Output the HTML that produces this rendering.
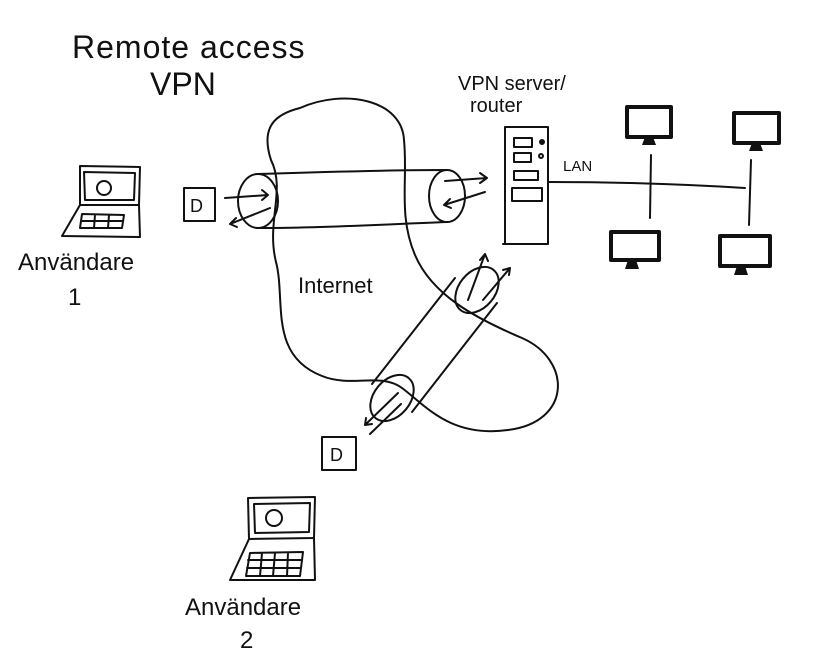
<!DOCTYPE html>
<html><head><meta charset="utf-8"><style>
html,body{margin:0;padding:0;background:#fff;}
svg{display:block;}
text{font-family:"Liberation Sans",sans-serif;fill:#111;}
</style></head><body>
<svg width="823" height="659" viewBox="0 0 823 659" xmlns="http://www.w3.org/2000/svg">
<g fill="none" stroke="#111" stroke-width="2" stroke-linecap="round" stroke-linejoin="round">
<!-- internet cloud -->
<path d="M300,108 C345,88 402,100 404,140 C408,180 398,215 415,255 C432,295 475,318 522,338 C572,360 572,422 508,430 C450,438 425,405 402,388 C380,372 352,388 322,376 C268,355 286,300 276,262 C266,222 286,190 271,160 C260,126 276,114 300,108 Z"/>
<!-- tunnel 1 -->
<ellipse cx="258" cy="201" rx="20" ry="27"/>
<ellipse cx="447" cy="196" rx="18" ry="26"/>
<path d="M258,174 C320,172 390,170 447,170 M258,228 C330,228 390,224 447,222"/>
<!-- tunnel 2 -->
<ellipse cx="477" cy="290" rx="18" ry="26" transform="rotate(40 477 290)"/>
<ellipse cx="392" cy="398" rx="18" ry="26" transform="rotate(40 392 398)"/>
<path d="M455,278 L372,384 M497,303 L412,412"/>
<!-- arrows tunnel 1 -->
<path d="M225,198 L268,195 M262,190 L268,195 L262,200"/>
<path d="M270,208 L230,224 M236,218 L230,224 L237,227"/>
<path d="M445,181 L487,178 M480,173 L487,178 L480,183"/>
<path d="M485,192 L444,205 M450,199 L444,205 L451,208"/>
<!-- arrows tunnel 2 -->
<path d="M468,300 L485,254 M480,260 L485,254 L488,261"/>
<path d="M483,300 L510,268 M503,270 L510,268 L509,275"/>
<path d="M398,393 L365,425 M366,418 L365,425 L372,424"/>
<path d="M370,434 L401,404"/>
<!-- D boxes -->
<rect x="184" y="188" width="31" height="33"/>
<rect x="322" y="437" width="34" height="33"/>
<!-- server -->
<rect x="505" y="127" width="43" height="117"/>
<path d="M503,244 L540,244"/>
<rect x="514" y="138" width="18" height="9"/>
<rect x="514" y="153" width="17" height="9"/>
<rect x="514" y="171" width="24" height="9"/>
<rect x="512" y="188" width="30" height="13"/>
<circle cx="542" cy="142" r="2" fill="#111"/>
<circle cx="541" cy="156" r="2"/>
<!-- LAN -->
<path d="M548,182 C620,182 680,184 745,188"/>
<path d="M651,155 L650,218 M751,160 L749,225"/>
<!-- laptop 1 -->
<path d="M80,166 L140,167 L139,205 L80,205 Z M84,172 L135,173 L134,200 L85,200 Z"/>
<path d="M80,205 L62,236 L140,237 L139,205"/>
<path d="M82,214 L124,215 L122,228 L80,228 Z M81,221 L123,221 M95,215 L94,228 M109,215 L108,228"/>
<circle cx="104" cy="188" r="7"/>
<!-- laptop 2 -->
<path d="M248,498 L315,497 L314,538 L249,539 Z M254,504 L310,503 L309,532 L255,533 Z"/>
<path d="M249,539 L230,580 L315,580 L314,538"/>
<path d="M250,553 L303,552 L300,576 L246,576 Z M248,560 L302,560 M247,568 L301,568 M262,553 L260,576 M275,553 L273,576 M288,553 L287,576"/>
<circle cx="274" cy="518" r="8"/>
</g>
<!-- monitors -->
<g fill="none" stroke="#111" stroke-width="4" stroke-linejoin="round">
<rect x="627" y="107" width="44" height="30"/>
<rect x="734" y="113" width="45" height="30"/>
<rect x="611" y="232" width="48" height="28"/>
<rect x="720" y="236" width="50" height="30"/>
</g>
<g fill="#111">
<path d="M645,137 h8 l3,8 h-14 z"/>
<path d="M752,143 h8 l3,8 h-14 z"/>
<path d="M628,260 h8 l3,9 h-14 z"/>
<path d="M737,266 h8 l3,9 h-14 z"/>
</g>
<g font-size="16">
<text x="190" y="212" font-size="18">D</text>
<text x="330" y="461" font-size="18">D</text>
<text x="563" y="171" font-size="15">LAN</text>
<text x="298" y="293" font-size="22">Internet</text>
<text x="458" y="90" font-size="20">VPN server/</text>
<text x="470" y="112" font-size="20">router</text>
<text x="72" y="58" font-size="32" font-weight="normal" letter-spacing="1">Remote access</text>
<text x="150" y="95" font-size="32">VPN</text>
<text x="18" y="270" font-size="24">Användare</text>
<text x="68" y="305" font-size="24">1</text>
<text x="185" y="615" font-size="24">Användare</text>
<text x="240" y="648" font-size="24">2</text>
</g>
</svg>
</body></html>
